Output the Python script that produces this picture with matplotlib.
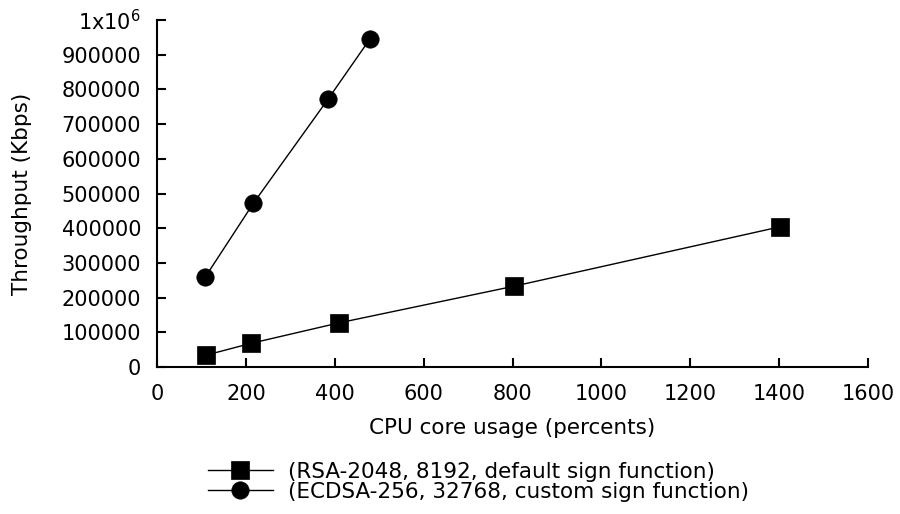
import matplotlib
matplotlib.use('Agg')
import matplotlib.pyplot as plt
from matplotlib.ticker import FixedLocator, FixedFormatter

plt.rcParams['font.family'] = ['DejaVu Sans']
plt.rcParams['font.size'] = 15
plt.rcParams['mathtext.default'] = 'regular'

# CPU usage (percent) vs throughput (Kbps)
rsa_cpu = [110, 211, 409, 804, 1402]
rsa_tput = [34000, 68000, 127000, 233000, 404000]
ecdsa_cpu = [109, 217, 385, 479]
ecdsa_tput = [260000, 472000, 772000, 945000]

rsa_label = '(RSA-2048, 8192, default sign function)'
ecdsa_label = '(ECDSA-256, 32768, custom sign function)'

x_ticks = [0, 200, 400, 600, 800, 1000, 1200, 1400, 1600]
y_ticks = [0, 100000, 200000, 300000, 400000, 500000, 600000, 700000, 800000, 900000, 1000000]
y_tick_labels = [str(v) for v in y_ticks[:-1]] + [r'1x10$^{6}$']

fig = plt.figure(figsize=(9, 5.14), dpi=100)
ax = fig.add_axes([157 / 900, 1 - 367 / 514, (868 - 157) / 900, (367 - 20) / 514])

ax.plot(rsa_cpu, rsa_tput, color='black', linewidth=1.0, marker='s',
        markersize=12.5, markeredgewidth=0.5, label=rsa_label, clip_on=False)
ax.plot(ecdsa_cpu, ecdsa_tput, color='black', linewidth=1.0, marker='o',
        markersize=12.5, markeredgewidth=0.5, label=ecdsa_label, clip_on=False)

ax.set_xlim(0, 1600)
ax.set_ylim(0, 1000000)
ax.xaxis.set_major_locator(FixedLocator(x_ticks))
ax.yaxis.set_major_locator(FixedLocator(y_ticks))
ax.yaxis.set_major_formatter(FixedFormatter(y_tick_labels))

for side in ['top', 'right']:
    ax.spines[side].set_visible(False)
for side in ['left', 'bottom']:
    ax.spines[side].set_linewidth(1.5)
ax.tick_params(direction='in', length=6.5, width=1.5, labelsize=15)
ax.tick_params(axis='y', pad=11.5)
ax.tick_params(axis='x', pad=12)

ax.set_xlabel('CPU core usage (percents)', fontsize=15.5, labelpad=10)
ax.set_ylabel('Throughput (Kbps)', fontsize=15.5, labelpad=21)

fig.legend(loc='upper left', bbox_to_anchor=(208 / 900, 1 - 462 / 514),
           frameon=False, handlelength=3.0, handletextpad=0.7,
           labelspacing=-0.02, fontsize=15.5, borderaxespad=0, borderpad=0)

fig.savefig('out.png', dpi=100)
